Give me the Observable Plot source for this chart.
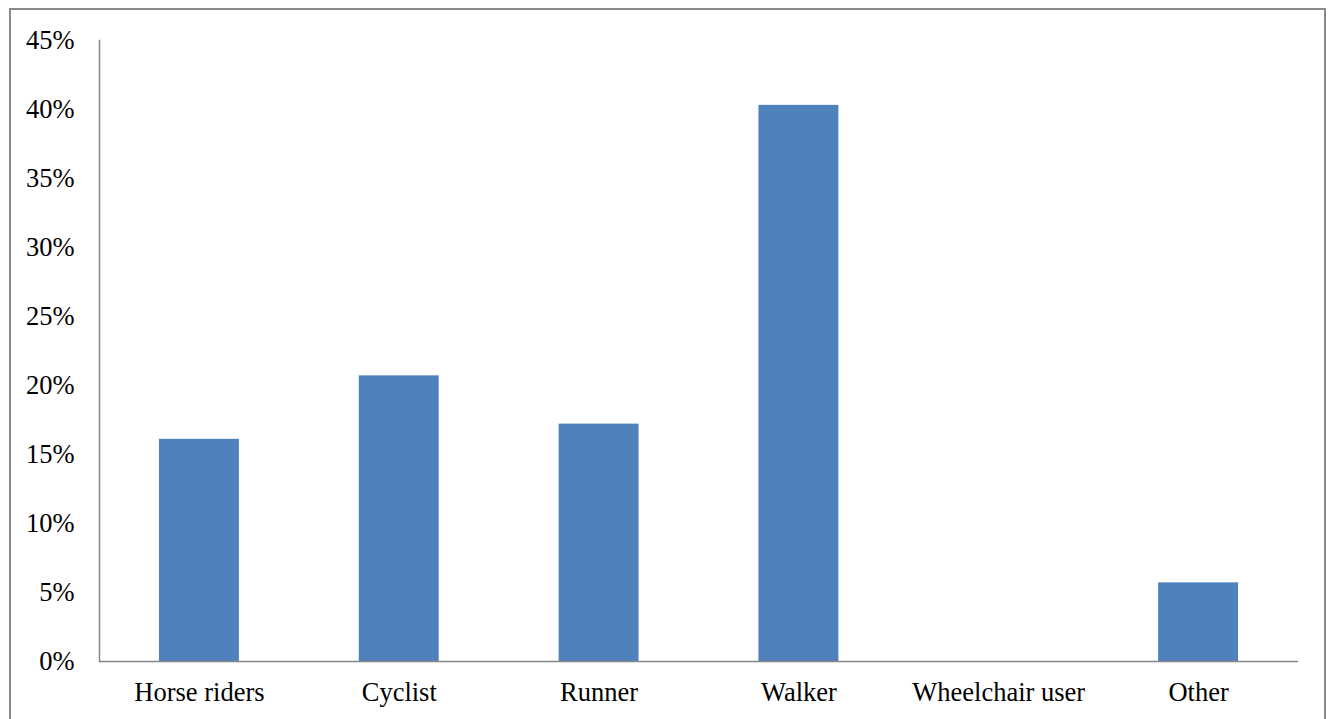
<!DOCTYPE html>
<html>
<head>
<meta charset="utf-8">
<script src="https://cdn.jsdelivr.net/npm/d3@7"></script>
<script src="https://cdn.jsdelivr.net/npm/@observablehq/plot@0.6"></script>
<style>
  html, body { margin: 0; padding: 0; background: #fff; overflow: hidden; }
  #wrap { position: relative; width: 1329px; height: 719px; }
  #frame { position: absolute; left: 9px; top: 8px; width: 1317px; height: 730px; border: 2px solid #8a8a8a; box-sizing: border-box; pointer-events: none; }
  svg { font-family: "Liberation Serif", "Times New Roman", serif; }
</style>
</head>
<body>
<div id="wrap"><div id="frame"></div></div>
<script>
const categories = ["Horse riders", "Cyclist", "Runner", "Walker", "Wheelchair user", "Other"];
const values = [0.161, 0.207, 0.172, 0.403, 0, 0.057];
const yTicks = [0, 0.05, 0.10, 0.15, 0.20, 0.25, 0.30, 0.35, 0.40, 0.45];

const data = categories.map((c, i) => ({category: c, value: values[i]}));

const chart = Plot.plot({
  width: 1329,
  height: 719,
  marginLeft: 99,
  marginRight: 31,
  marginTop: 40,
  marginBottom: 58,
  style: {fontFamily: '"Liberation Serif", "Times New Roman", serif', fontSize: "26.5px", color: "#000", background: "transparent"},
  x: {domain: categories, paddingInner: 0.6, paddingOuter: 0.3, round: false, label: null},
  y: {domain: [0, 0.45], label: null},
  marks: [
    Plot.barY(data, {x: "category", y: "value", fill: "#4F81BD"}),
    Plot.axisY({ticks: yTicks, tickFormat: d3.format(".0%"), tickSize: 0, tickPadding: 25, fontSize: 26.5, fill: "#000"}),
    Plot.axisX({tickSize: 0, tickPadding: 21, fontSize: 26.5, fill: "#000"}),
    Plot.ruleY([0], {stroke: "#868686", strokeWidth: 1.5}),
    Plot.frame({anchor: "left", stroke: "#868686", strokeWidth: 1.5})
  ]
});
document.getElementById("wrap").prepend(chart);
</script>
</body>
</html>
